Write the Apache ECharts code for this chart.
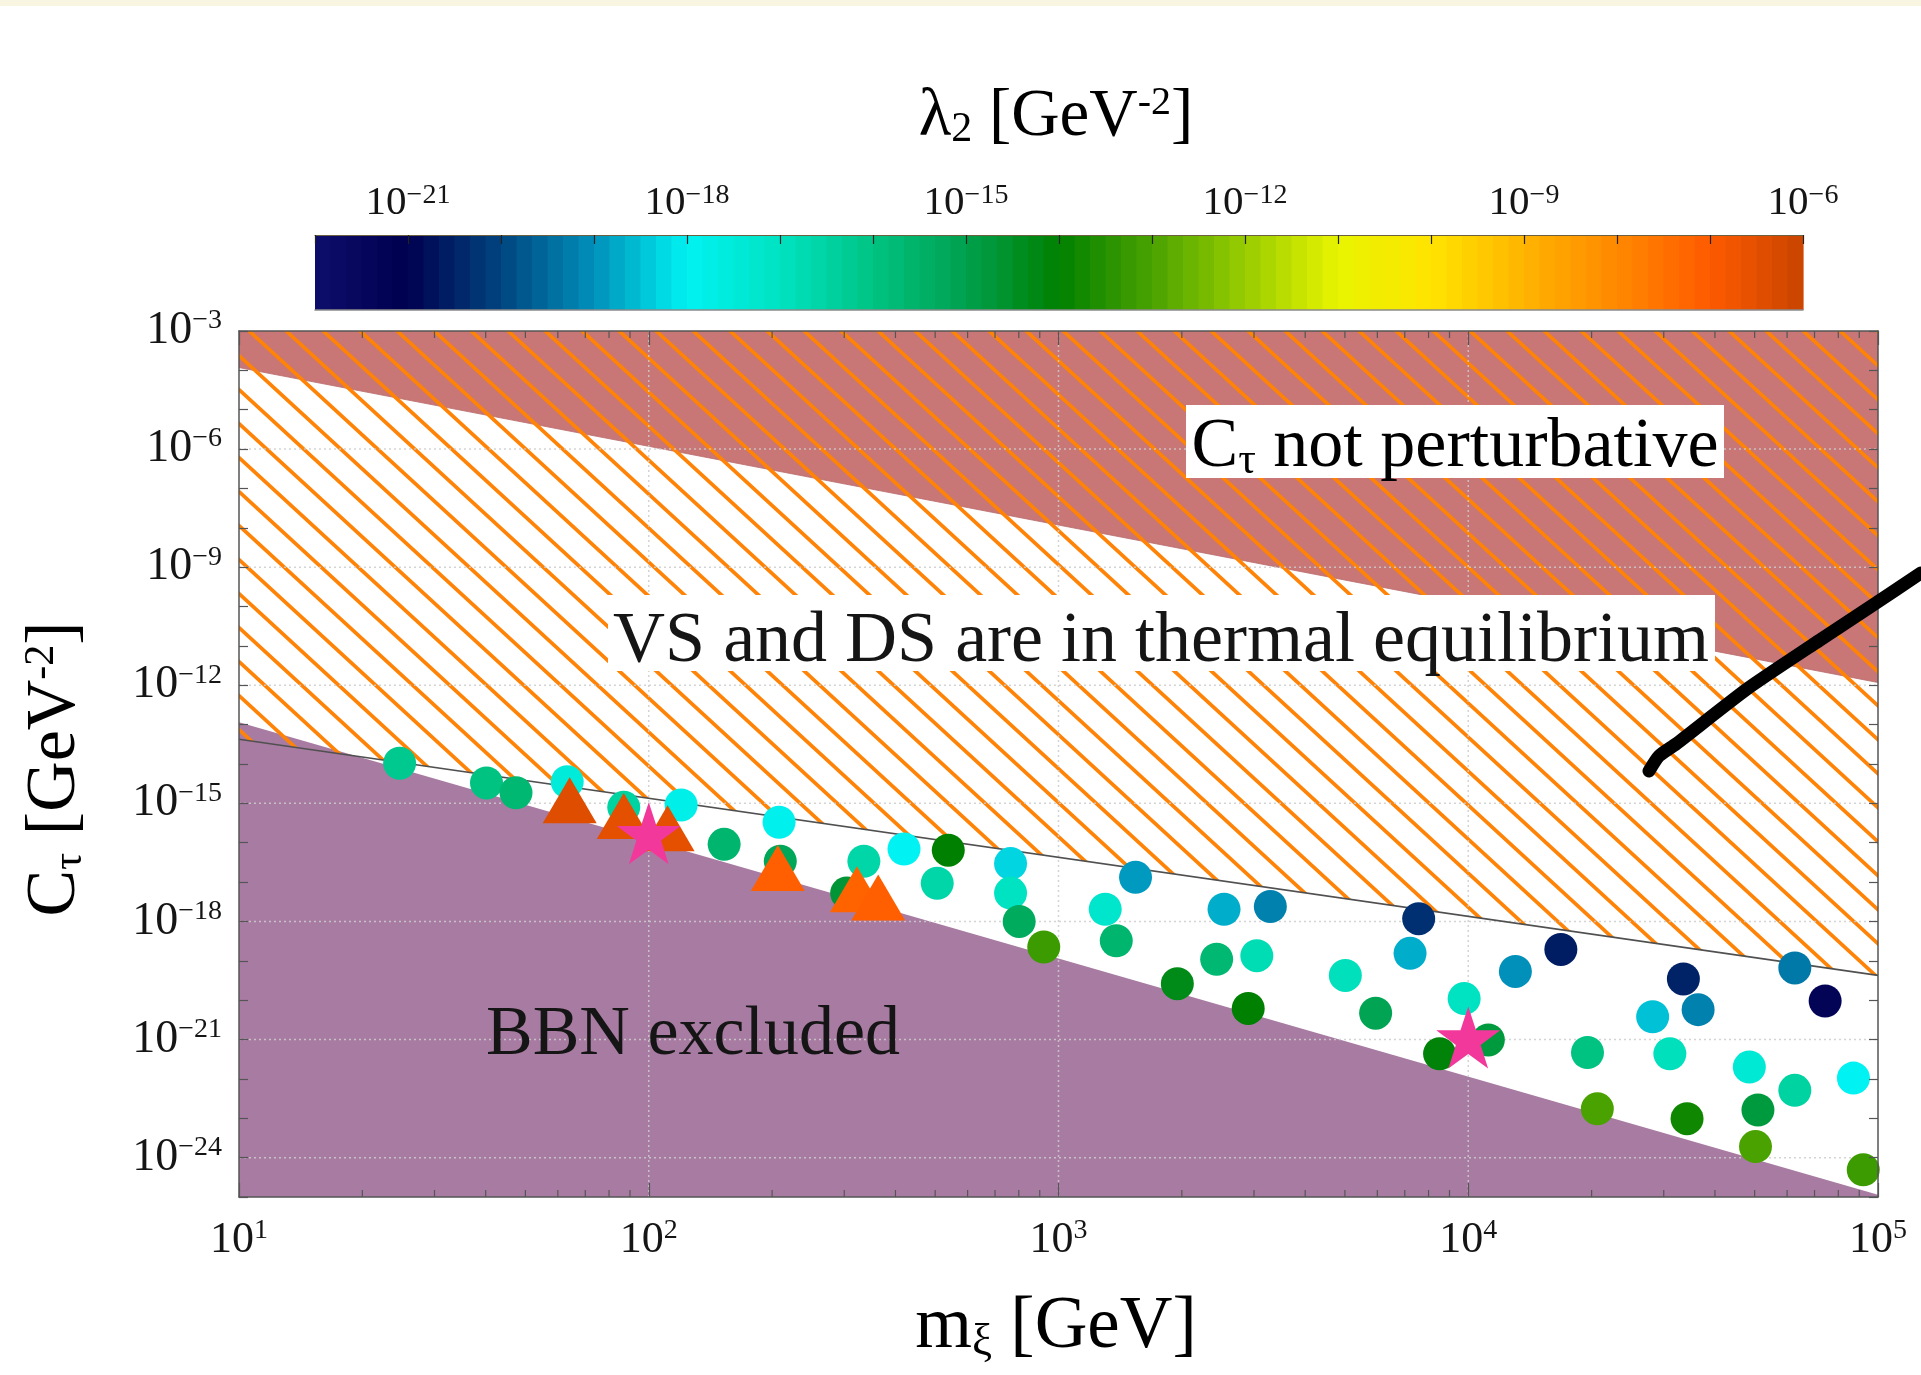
<!DOCTYPE html>
<html>
<head>
<meta charset="utf-8">
<script src="https://cdn.jsdelivr.net/npm/echarts@6/dist/echarts.min.js"></script>
<style>
html,body{margin:0;padding:0;background:#ffffff;}
#chart{width:1921px;height:1375px;}
</style>
</head>
<body>
<div id="chart"></div>
<script>
// ---------------- DATA (log10 values) ----------------
// circles: log10(m_xi / GeV), log10(C_tau / GeV^-2), log10(lambda2 / GeV^-2)
const circleLogM = [1.392,1.604,1.676,1.801,1.939,2.079,2.184,2.318,2.321,2.525,2.483,2.623,2.731,2.704,2.883,2.883,2.904,2.964,3.114,3.141,3.188,3.290,3.404,3.386,3.484,3.517,3.463,3.700,3.774,3.879,3.858,3.990,3.930,4.049,4.115,4.226,4.291,4.315,4.450,4.525,4.561,4.492,4.534,4.686,4.707,4.701,4.797,4.797,4.871,4.940,4.964];
const circleLogC = [-13.98,-14.48,-14.73,-14.45,-15.10,-15.04,-16.04,-15.48,-16.47,-16.47,-17.28,-16.16,-16.19,-17.03,-16.53,-17.28,-18.00,-18.65,-17.69,-18.49,-16.88,-19.58,-17.69,-18.96,-18.87,-17.62,-20.21,-19.37,-20.33,-17.93,-18.81,-19.96,-21.36,-21.01,-19.27,-18.71,-21.33,-22.76,-20.42,-19.46,-20.24,-21.36,-23.01,-21.70,-22.79,-23.72,-22.29,-19.18,-20.02,-21.98,-24.31];
const circleLogLambda = [-16.2,-16.0,-15.7,-17.5,-16.5,-17.8,-15.6,-17.9,-15.2,-16.6,-14.7,-18.0,-14.0,-16.6,-18.3,-17.0,-15.3,-13.2,-17.2,-15.6,-18.9,-14.3,-18.7,-15.7,-16.8,-19.2,-14.0,-16.9,-15.1,-20.3,-18.7,-17.0,-14.1,-14.8,-19.0,-20.6,-16.0,-13.0,-18.5,-20.5,-19.2,-16.9,-13.8,-17.4,-14.8,-13.0,-16.5,-19.3,-21.3,-18.0,-13.2];

// triangles
const triLogM = [1.807,1.939,2.046,2.315,2.508,2.560];
const triLogC = [-14.92,-15.32,-15.63,-16.64,-17.18,-17.39];
const triLogLambda = [-6.4,-6.5,-6.5,-7.1,-7.2,-7.1];

// stars (benchmark points)
const starLogM = [2, 4];
const starLogC = [-15.76, -20.95];

// region boundaries (log10 C at log10 m = 1 and 5)
const boundaryLogM = [1, 5];
const perturbativeLogC = [-3.93, -11.93];
const thermalLogC = [-13.37, -19.37];
const bbnLogC = [-12.94, -24.94];

// axes / ticks
const xRange = [1, 5];
const yRange = [-25, -3];
const yGridExps = [-24, -21, -18, -15, -12, -9, -6];
const xGridExps = [2, 3, 4];
const xMinorMultipliers = [2, 3, 4, 5, 6, 7, 8, 9];
const cbRange = [-22, -6];
const cbStepsPerDecade = 6;

// colour map of lambda2 (one colour per decade from 1e-22 to 1e-6)
const lambdaColors = ['#0d0d6b','#00004f','#00457f','#0090ba','#00f2f2','#00e3c2','#00c382','#00a04e','#008000','#4aa200','#98cc00','#e8f400','#ffe400','#ffb400','#ff8800','#ff5a00','#c84400'];

// ---------------- helpers ----------------
const FONT = 'Liberation Serif';
const TXT = '#151515';
const FRAME = '#555555';

function hatchPattern() {
  const s = 37, h = 34;
  const c = document.createElement('canvas');
  c.width = s; c.height = h;
  const g = c.getContext('2d');
  g.strokeStyle = '#ff8306';
  g.lineWidth = 3.7;
  g.lineCap = 'square';
  g.beginPath();
  for (let k = -2; k <= 2; k++) {
    g.moveTo(k * s - s, -h);
    g.lineTo(k * s + 2 * s, 2 * h);
  }
  g.stroke();
  return { image: c, repeat: 'repeat' };
}

function tickRich(base, sup) {
  return {
    b: { fontFamily: FONT, fontSize: base, lineHeight: base + 2, color: TXT },
    s: { fontFamily: FONT, fontSize: sup, lineHeight: Math.round(base * 0.5), verticalAlign: 'top', color: TXT }
  };
}
function expLabel(v) {
  const n = Math.round(v);
  const t = n < 0 ? '\u2212' + Math.abs(n) : String(n);
  return '{b|10}{s|' + t + '}';
}

function titleRich(size) {
  return {
    t: { fontFamily: FONT, fontSize: size, color: TXT },
    sub: { fontFamily: FONT, fontSize: Math.round(size * 0.62), lineHeight: Math.round(size * 0.34), verticalAlign: 'bottom', color: TXT },
    sup: { fontFamily: FONT, fontSize: Math.round(size * 0.6), lineHeight: Math.round(size * 0.53), verticalAlign: 'top', color: TXT }
  };
}
const annRich = {
  t: { fontFamily: FONT, fontSize: 70, color: TXT },
  sub: { fontFamily: FONT, fontSize: 44, lineHeight: 24, verticalAlign: 'bottom', color: TXT }
};

const xMinorTicks = [];
for (let d = xRange[0]; d < xRange[1]; d++) {
  xMinorMultipliers.forEach(k => xMinorTicks.push([d + Math.log10(k), yRange[0]]));
}
const cbBands = [];
for (let i = 0; i < (cbRange[1] - cbRange[0]) * cbStepsPerDecade; i++) {
  const a = cbRange[0] + i / cbStepsPerDecade;
  const b = cbRange[0] + (i + 1) / cbStepsPerDecade;
  cbBands.push([a, b, (a + b) / 2]);
}

const axisLineStyle = { color: FRAME, width: 1.5 };
const tickStyle = { color: FRAME, width: 1.2 };

const option = {
  animation: false,
  backgroundColor: '#ffffff',
  grid: [
    { left: 239, top: 331, width: 1639, height: 866, containLabel: false },
    { left: 315, top: 235, width: 1488, height: 75, containLabel: false }
  ],
  xAxis: [
    { gridIndex: 0, type: 'value', min: xRange[0], max: xRange[1], interval: 1, position: 'bottom', z: 10,
      axisLine: { show: true, onZero: false, lineStyle: axisLineStyle },
      axisTick: { show: true, inside: true, length: 14, lineStyle: tickStyle },
      axisLabel: { margin: 20, formatter: expLabel, rich: tickRich(44, 28), showMinLabel: true, showMaxLabel: true },
      splitLine: { show: false } },
    { gridIndex: 0, type: 'value', min: xRange[0], max: xRange[1], interval: 1, position: 'top', z: 10,
      axisLine: { show: true, onZero: false, lineStyle: axisLineStyle },
      axisTick: { show: true, inside: true, length: 14, lineStyle: tickStyle },
      axisLabel: { show: false }, splitLine: { show: false } },
    { gridIndex: 1, type: 'value', min: cbRange[0], max: cbRange[1], interval: 1, position: 'top', z: 10,
      axisLine: { show: true, onZero: false, lineStyle: { color: '#6b6040', width: 1 } },
      axisTick: { show: true, inside: true, length: 9, lineStyle: { color: '#222', width: 1.2 } },
      axisLabel: { margin: 10, showMinLabel: true, showMaxLabel: true,
        formatter: v => (Math.round(v) % 3 === 0 ? expLabel(v) : ''), rich: tickRich(41, 28) },
      splitLine: { show: false } },
    { gridIndex: 1, type: 'value', min: cbRange[0], max: cbRange[1], position: 'bottom', z: 10,
      axisLine: { show: true, onZero: false, lineStyle: { color: '#8a8a8a', width: 1.5 } },
      axisTick: { show: false }, axisLabel: { show: false }, splitLine: { show: false } }
  ],
  yAxis: [
    { gridIndex: 0, type: 'value', min: yRange[0], max: yRange[1], interval: 1, position: 'left', z: 10,
      axisLine: { show: true, onZero: false, lineStyle: axisLineStyle },
      axisTick: { show: true, inside: true, length: 9, lineStyle: tickStyle },
      axisLabel: { margin: 17, showMinLabel: true, showMaxLabel: true,
        formatter: v => (Math.round(v) % 3 === 0 ? expLabel(v) : ''), rich: tickRich(46, 28) },
      splitLine: { show: false } },
    { gridIndex: 0, type: 'value', min: yRange[0], max: yRange[1], interval: 1, position: 'right', z: 10,
      axisLine: { show: true, onZero: false, lineStyle: axisLineStyle },
      axisTick: { show: true, inside: true, length: 9, lineStyle: tickStyle },
      axisLabel: { show: false }, splitLine: { show: false } },
    { gridIndex: 1, type: 'value', min: 0, max: 1, show: false }
  ],
  visualMap: {
    type: 'continuous', show: false, min: cbRange[0], max: cbRange[1], dimension: 2,
    seriesIndex: [0, 8, 9], inRange: { color: lambdaColors }
  },
  series: [
    // 0: colour bar bands
    { type: 'custom', xAxisIndex: 2, yAxisIndex: 2, silent: true, z: 1, data: cbBands,
      renderItem: (params, api) => {
        const p0 = api.coord([api.value(0), 1]);
        const p1 = api.coord([api.value(1), 0]);
        return { type: 'rect', shape: { x: p0[0], y: p0[1], width: p1[0] - p0[0] + 0.6, height: p1[1] - p0[1] },
          style: { fill: api.visual('color') } };
      } },
    // 1: BBN excluded
    { type: 'line', xAxisIndex: 0, yAxisIndex: 0, silent: true, z: 1, symbol: 'none',
      data: boundaryLogM.map((x, i) => [x, bbnLogC[i]]),
      lineStyle: { width: 0 }, areaStyle: { color: '#a87ca2', opacity: 1, origin: 'start' } },
    // 2: not perturbative
    { type: 'line', xAxisIndex: 0, yAxisIndex: 0, silent: true, z: 2, symbol: 'none',
      data: boundaryLogM.map((x, i) => [x, perturbativeLogC[i]]),
      lineStyle: { width: 0.8, color: '#b86868' }, areaStyle: { color: '#c87676', opacity: 1, origin: 'end' } },
    // 3: thermal equilibrium (hatched)
    { type: 'line', xAxisIndex: 0, yAxisIndex: 0, silent: true, z: 3, symbol: 'none',
      data: boundaryLogM.map((x, i) => [x, thermalLogC[i]]),
      lineStyle: { width: 0 }, areaStyle: { color: hatchPattern(), opacity: 1, origin: 'end' } },
    // 4: horizontal grid lines
    { type: 'custom', xAxisIndex: 0, yAxisIndex: 0, silent: true, z: 4,
      data: yGridExps.map(v => [xRange[0], v]),
      renderItem: (params, api) => {
        const a = api.coord([xRange[0], api.value(1)]);
        const b = api.coord([xRange[1], api.value(1)]);
        return { type: 'line', shape: { x1: a[0], y1: a[1], x2: b[0], y2: b[1] },
          style: { stroke: 'rgba(205,205,205,0.85)', lineWidth: 1.5, lineDash: [2, 3] } };
      } },
    // 5: vertical grid lines
    { type: 'custom', xAxisIndex: 0, yAxisIndex: 0, silent: true, z: 4,
      data: xGridExps.map(v => [v, yRange[0]]),
      renderItem: (params, api) => {
        const a = api.coord([api.value(0), yRange[0]]);
        const b = api.coord([api.value(0), yRange[1]]);
        return { type: 'line', shape: { x1: a[0], y1: a[1], x2: b[0], y2: b[1] },
          style: { stroke: 'rgba(205,205,205,0.85)', lineWidth: 1.5, lineDash: [2, 3] } };
      } },
    // 6: thermal boundary line
    { type: 'line', xAxisIndex: 0, yAxisIndex: 0, silent: true, z: 5, symbol: 'none',
      data: boundaryLogM.map((x, i) => [x, thermalLogC[i]]),
      lineStyle: { width: 1.6, color: '#505050' } },
    // 7: minor x ticks
    { type: 'custom', xAxisIndex: 0, yAxisIndex: 0, silent: true, z: 6, data: xMinorTicks,
      renderItem: (params, api) => {
        const a = api.coord([api.value(0), yRange[0]]);
        const b = api.coord([api.value(0), yRange[1]]);
        return { type: 'group', children: [
          { type: 'line', shape: { x1: a[0], y1: a[1], x2: a[0], y2: a[1] - 7 }, style: { stroke: FRAME, lineWidth: 1.2 } },
          { type: 'line', shape: { x1: b[0], y1: b[1], x2: b[0], y2: b[1] + 7 }, style: { stroke: FRAME, lineWidth: 1.2 } }
        ] };
      } },
    // 8: circles
    { type: 'scatter', xAxisIndex: 0, yAxisIndex: 0, z: 7, symbol: 'circle', symbolSize: 33,
      data: circleLogM.map((x, i) => [x, circleLogC[i], circleLogLambda[i]]),
      itemStyle: { opacity: 1 } },
    // 9: triangles
    { type: 'scatter', xAxisIndex: 0, yAxisIndex: 0, z: 8, symbol: 'triangle', symbolSize: [54, 46],
      data: triLogM.map((x, i) => [x, triLogC[i], triLogLambda[i]]),
      itemStyle: { opacity: 1 } },
    // 10: stars
    { type: 'scatter', xAxisIndex: 0, yAxisIndex: 0, z: 9,
      symbol: 'path://M50,0 L61.8,35.1 L98.6,35.1 L68.8,57 L80.2,92.2 L50,70.5 L19.8,92.2 L31.2,57 L1.4,35.1 L38.2,35.1 Z',
      symbolSize: [64, 62],
      data: starLogM.map((x, i) => [x, starLogC[i]]),
      itemStyle: { color: '#f2399b', opacity: 1 } }
  ],
  graphic: [
    { type: 'rect', z: 0, shape: { x: 0, y: 0, width: 1921, height: 6 }, style: { fill: '#f8f6e1' } },
    { type: 'text', z: 100, x: 1056, y: 117,
      style: { text: '{t|λ}{sub|2}{t| [GeV}{sup|-2}{t|]}', align: 'center', verticalAlign: 'middle', rich: titleRich(67) } },
    { type: 'text', z: 100, x: 1056, y: 1328,
      style: { text: '{t|m}{sub|ξ}{t| [GeV]}', align: 'center', verticalAlign: 'middle', rich: titleRich(73) } },
    { type: 'text', z: 100, x: 56, y: 769, rotation: Math.PI / 2,
      style: { text: '{t|C}{sub|τ}{t| [GeV}{sup|-2}{t|]}', align: 'center', verticalAlign: 'middle', rich: titleRich(70) } },
    { type: 'rect', z: 50, shape: { x: 1186, y: 405, width: 538, height: 73 }, style: { fill: '#ffffff' } },
    { type: 'text', z: 51, x: 1455, y: 448,
      style: { text: '{t|C}{sub|τ}{t| not perturbative}', align: 'center', verticalAlign: 'middle', rich: annRich } },
    { type: 'rect', z: 50, shape: { x: 608, y: 595, width: 1107, height: 76 }, style: { fill: '#ffffff' } },
    { type: 'text', z: 51, x: 1161, y: 642,
      style: { text: 'VS and DS are in thermal equilibrium', align: 'center', verticalAlign: 'middle',
        font: '72px "Liberation Serif"', fill: TXT } },
    { type: 'text', z: 51, x: 693, y: 1036,
      style: { text: 'BBN excluded', align: 'center', verticalAlign: 'middle',
        font: '70px "Liberation Serif"', fill: TXT } },
    { type: 'polyline', z: 100,
      shape: { points: [[1649, 771], [1659, 756], [1676, 744], [1747, 689], [1820, 640], [1873, 605], [1921, 573]], smooth: 0.2 },
      style: { stroke: '#000000', lineWidth: 13, lineCap: 'round', lineJoin: 'round', fill: null } }
  ]
};

const chart = echarts.init(document.getElementById('chart'), null, { renderer: 'canvas', width: 1921, height: 1375 });
chart.setOption(option);
</script>
</body>
</html>
